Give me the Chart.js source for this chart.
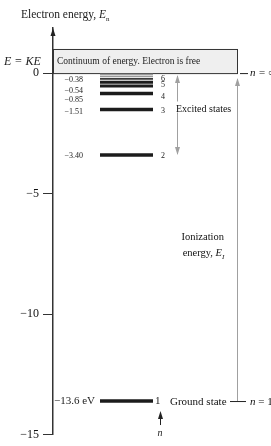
<!DOCTYPE html>
<html>
<head>
<meta charset="utf-8">
<script src="https://cdn.jsdelivr.net/npm/chart.js@4.4.1/dist/chart.umd.min.js"></script>
<style>
  html, body { margin: 0; padding: 0; background: #fff; }
</style>
</head>
<body>
<canvas id="myChart" width="271" height="446"></canvas>
<script>
// energy levels of hydrogen (eV), n = 1..6
const levelN = ['1', '2', '3', '4', '5', '6'];
const levelEnergy = [-13.6, -3.40, -1.51, -0.85, -0.54, -0.38];
const levelValueLabels = ['\u221213.6 eV', '\u22123.40', '\u22121.51', '\u22120.85', '\u22120.54', '\u22120.38'];
// thin levels crowding towards 0
const upperLevels = [-0.24, -0.14, -0.06];
// y axis
const tickValues = [0, -5, -10, -15];
const tickLabels = ['0', '\u22125', '\u221210', '\u221215'];
const continuumTop = 1.0;

const serif = '"Liberation Serif", "DejaVu Serif", serif';
const barStart = 47, barEnd = 100;     // x units (1 unit = 1 px)
const boxRight = 184;
const excitedX = 124, ionX = 184;

const levelSets = levelEnergy.map((e, i) => ({
    data: [{x: barStart, y: e}, {x: barEnd, y: e}],
    borderColor: '#1c1c1c',
    borderWidth: i > 3 ? 3 : 3.5,
    borderCapStyle: 'butt',
    pointRadius: 0,
    showLine: true
}));
const upperSets = upperLevels.map((e, i) => ({
    data: [{x: barStart, y: e}, {x: barEnd, y: e}],
    borderColor: i === 0 ? '#3a3a3a' : '#9a9a9a',
    borderWidth: i === 0 ? 1.8 : 1.5,
    pointRadius: 0,
    showLine: true
}));

function arrowHead(ctx, x, y, dir, col) {
    // dir = -1 points up, 1 points down
    ctx.fillStyle = col;
    ctx.beginPath();
    ctx.moveTo(x, y);
    ctx.lineTo(x - 2.5, y - dir * 8);
    ctx.lineTo(x + 2.5, y - dir * 8);
    ctx.closePath();
    ctx.fill();
}

const decor = {
    id: 'decor',
    beforeDatasetsDraw(chart) {
        const {ctx, scales: {x, y}} = chart;
        const x0 = x.getPixelForValue(0), x1 = x.getPixelForValue(boxRight);
        const y0 = y.getPixelForValue(0), y1 = y.getPixelForValue(continuumTop);
        ctx.save();
        ctx.fillStyle = '#efefef';
        ctx.fillRect(x0, y1, x1 - x0, y0 - y1);
        ctx.strokeStyle = '#333';
        ctx.lineWidth = 1;
        ctx.strokeRect(x0 + 0.5, y1 + 0.5, x1 - x0, y0 - y1);
        ctx.restore();
    },
    afterDraw(chart) {
        const {ctx, scales: {x, y}} = chart;
        const px = v => x.getPixelForValue(v);
        const py = v => y.getPixelForValue(v);
        ctx.save();
        ctx.fillStyle = '#111';
        ctx.textBaseline = 'alphabetic';

        // axis arrow
        arrowHead(ctx, chart.chartArea.left, chart.chartArea.top, -1, '#222');

        // title
        ctx.font = '11.5px ' + serif;
        ctx.textAlign = 'left';
        let tx = 21;
        ctx.fillText('Electron energy, ', tx, 18);
        tx += ctx.measureText('Electron energy, ').width;
        ctx.font = 'italic 11.5px ' + serif;
        ctx.fillText('E', tx, 18);
        tx += ctx.measureText('E').width;
        ctx.font = '7px ' + serif;
        ctx.fillText('n', tx, 21);

        // E = KE
        ctx.font = 'italic 12px ' + serif;
        ctx.fillText('E = KE', 4, py(continuumTop / 2) + 4);

        // continuum text
        ctx.font = '9.5px ' + serif;
        ctx.fillText('Continuum of energy. Electron is free', px(4), py(continuumTop / 2) + 3);

        // level values and numbers
        const valOff = [0, 0, 1, 5, 4, -3];
        const numOff = [0, 0, 0, 2, -2, -4];
        levelEnergy.forEach((e, i) => {
            const big = i === 0;
            ctx.font = (big ? '11px ' : '8px ') + serif;
            ctx.textAlign = big ? 'left' : 'right';
            ctx.fillText(levelValueLabels[i], big ? px(1) : px(30), py(e) + valOff[i] + 3);
            ctx.textAlign = 'left';
            ctx.fillText(levelN[i], px(big ? 102 : 108), py(e) + numOff[i] + 3);
        });

        // excited states arrow
        const grey = '#a0a0a0';
        ctx.strokeStyle = grey;
        ctx.lineWidth = 1;
        ctx.beginPath();
        ctx.moveTo(px(excitedX) + 0.5, py(0) + 3);
        ctx.lineTo(px(excitedX) + 0.5, py(levelEnergy[1]) - 1);
        ctx.stroke();
        arrowHead(ctx, px(excitedX) + 0.5, py(0) + 2, -1, grey);
        arrowHead(ctx, px(excitedX) + 0.5, py(levelEnergy[1]), 1, grey);
        ctx.font = '10px ' + serif;
        ctx.textAlign = 'left';
        const ew = ctx.measureText('Excited states').width;
        ctx.fillStyle = '#fff';
        ctx.fillRect(px(excitedX) - 2, py(levelEnergy[2]) - 8, ew + 3, 11);
        ctx.fillStyle = '#111';
        ctx.fillText('Excited states', px(excitedX) - 1, py(levelEnergy[2]) + 2);

        // ionization arrow
        ctx.beginPath();
        ctx.moveTo(px(ionX) + 0.5, py(0) + 6);
        ctx.lineTo(px(ionX) + 0.5, py(levelEnergy[0]));
        ctx.stroke();
        arrowHead(ctx, px(ionX) + 0.5, py(0) + 5, -1, grey);
        ctx.fillStyle = '#111';
        ctx.font = '10.5px ' + serif;
        ctx.textAlign = 'right';
        ctx.fillText('Ionization', px(171), 240);
        ctx.font = 'italic 10.5px ' + serif;
        ctx.fillText('E', px(169), 256);
        const ew2 = ctx.measureText('E').width;
        ctx.font = 'italic 7px ' + serif;
        ctx.textAlign = 'left';
        ctx.fillText('I', px(169), 259);
        ctx.font = '10.5px ' + serif;
        ctx.textAlign = 'right';
        ctx.fillText('energy, ', px(169) - ew2, 256);

        // n = inf and n = 1 markers
        ctx.strokeStyle = '#222';
        ctx.lineWidth = 1;
        ctx.beginPath();
        ctx.moveTo(px(187), py(0) + 0.5);
        ctx.lineTo(px(195), py(0) + 0.5);
        ctx.moveTo(px(177), py(levelEnergy[0]) + 0.5);
        ctx.lineTo(px(193), py(levelEnergy[0]) + 0.5);
        ctx.stroke();
        ctx.textAlign = 'left';
        ctx.font = 'italic 11px ' + serif;
        ctx.fillText('n', px(197), py(0) + 3);
        ctx.fillText('n', px(197), py(levelEnergy[0]) + 4);
        ctx.font = '11px ' + serif;
        const nw = ctx.measureText('n').width;
        ctx.font = 'italic 11px ' + serif;
        ctx.fillText(' = \u221e', px(197) + nw, py(0) + 3);
        ctx.font = '11px ' + serif;
        ctx.fillText(' = 1', px(197) + nw, py(levelEnergy[0]) + 4);

        // ground state
        ctx.fillText('Ground state', px(117), py(levelEnergy[0]) + 4);

        // n arrow below ground level
        ctx.beginPath();
        ctx.moveTo(px(107) + 0.5, py(levelEnergy[0]) + 24);
        ctx.lineTo(px(107) + 0.5, py(levelEnergy[0]) + 14);
        ctx.stroke();
        arrowHead(ctx, px(107) + 0.5, py(levelEnergy[0]) + 10, -1, '#222');
        ctx.font = 'italic 10px ' + serif;
        ctx.textAlign = 'center';
        ctx.fillText('n', px(107), py(levelEnergy[0]) + 35);
        ctx.restore();
    }
};

const myChart = new Chart(document.getElementById('myChart').getContext('2d'), {
    type: 'scatter',
    data: { datasets: [...upperSets, ...levelSets] },
    options: {
        responsive: false,
        animation: false,
        layout: { padding: { top: 28, bottom: 3, left: 0, right: 0 } },
        plugins: { legend: { display: false }, tooltip: { enabled: false } },
        scales: {
            x: { type: 'linear', min: 0, max: 218, display: false },
            y: {
                type: 'linear',
                min: -15,
                max: 1.87,
                afterFit: s => { s.width = 53; },
                afterBuildTicks: s => { s.ticks = tickValues.map(v => ({ value: v })); },
                grid: { drawOnChartArea: false, drawTicks: true, tickLength: 10, color: '#333', lineWidth: 1 },
                border: { display: true, color: '#333', width: 1.5 },
                ticks: {
                    padding: 4,
                    color: '#111',
                    font: { family: serif, size: 12 },
                    callback: (v, i) => tickLabels[i]
                }
            }
        }
    },
    plugins: [decor]
});
</script>
</body>
</html>
